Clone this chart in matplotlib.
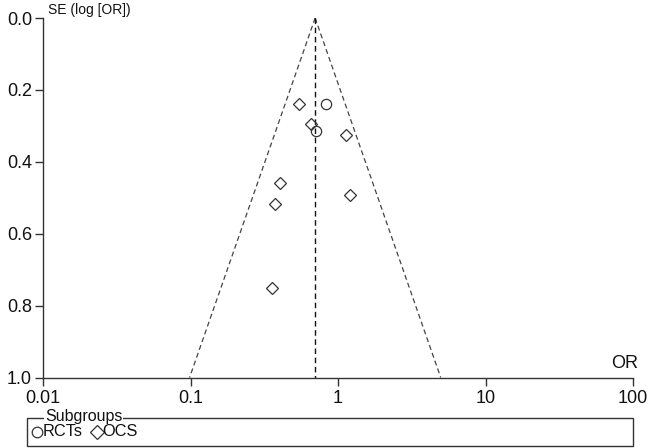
import numpy as np
import matplotlib
matplotlib.use("Agg")
import matplotlib.pyplot as plt
from matplotlib.lines import Line2D
from matplotlib.patches import Rectangle
from matplotlib.ticker import FixedLocator, FixedFormatter, NullLocator

plt.rcParams['font.family'] = ['Liberation Sans', 'DejaVu Sans']

# Data
rct_or = [0.834, 0.710]
rct_se = [0.240, 0.313]
ocs_or = [0.545, 0.660, 1.127, 0.404, 1.205, 0.375, 0.358]
ocs_se = [0.240, 0.294, 0.326, 0.460, 0.493, 0.516, 0.750]
pooled_or = 0.700
x_ticks = [0.01, 0.1, 1, 10, 100]
x_tick_labels = ["0.01", "0.1", "1", "10", "100"]
y_ticks = [0.0, 0.2, 0.4, 0.6, 0.8, 1.0]

W, H = 652, 448
fig = plt.figure(figsize=(W / 100, H / 100), dpi=100)
ax = fig.add_axes([43 / W, 1 - 377.5 / H, (633 - 43) / W, (377.5 - 18) / H])

ink = "#333333"

# funnel
se_line = np.array([0.0, 1.0])
lo = np.exp(np.log(pooled_or) - 1.96 * se_line)
hi = np.exp(np.log(pooled_or) + 1.96 * se_line)
dash = (0, (4.0, 2.6))
ax.plot(lo, se_line, color="#444444", lw=0.9, ls=dash)
ax.plot(hi, se_line, color="#444444", lw=0.9, ls=dash)
ax.plot([pooled_or, pooled_or], [0, 1], color="#111111", lw=1.0, ls=dash)

ax.plot(ocs_or, ocs_se, ls="none", marker="D", ms=6.6, mfc="none", mec=ink, mew=0.9)
ax.plot(rct_or, rct_se, ls="none", marker="o", ms=7.4, mfc="none", mec=ink, mew=0.9)

ax.set_xscale("log")
ax.set_xlim(0.01, 100)
ax.set_ylim(1.0, 0.0)
ax.xaxis.set_major_locator(FixedLocator(x_ticks))
ax.xaxis.set_major_formatter(FixedFormatter(x_tick_labels))
ax.xaxis.set_minor_locator(NullLocator())
ax.set_yticks(y_ticks)
ax.set_yticklabels([f"{v:.1f}" for v in y_ticks])

for s in ["top", "right"]:
    ax.spines[s].set_visible(False)
for s in ["left", "bottom"]:
    ax.spines[s].set_color(ink)
    ax.spines[s].set_linewidth(1.0)
ax.tick_params(axis="both", colors=ink, labelcolor="#111111", labelsize=13,
               length=6, width=1.0)
ax.tick_params(axis="y", pad=2)
ax.tick_params(axis="x", pad=3)

fig.text(48 / W, 1 - 10 / H, "SE (log [OR])", fontsize=10, color="#111111",
         ha="left", va="center")
fig.text(638 / W, 1 - 363 / H, "OR", fontsize=13, color="#111111",
         ha="right", va="center")

# legend box
fig.add_artist(Rectangle((27 / W, 1 - 445.5 / H), (633 - 27) / W, (445.5 - 417.5) / H,
                         transform=fig.transFigure, fill=False, ec=ink, lw=1.0))
fig.text(45 / W, 1 - 416.5 / H, "Subgroups", fontsize=11.5, color="#111111",
         ha="left", va="center",
         bbox=dict(facecolor="white", edgecolor="none", pad=0.5))
fig.add_artist(Line2D([37 / W], [1 - 431.5 / H], transform=fig.transFigure,
                      marker="o", ms=7.6, mfc="none", mec=ink, mew=0.9, ls="none"))
fig.text(42.5 / W, 1 - 431.5 / H, "RCTs", fontsize=11.8, color="#111111",
         ha="left", va="center")
fig.add_artist(Line2D([97 / W], [1 - 431.5 / H], transform=fig.transFigure,
                      marker="D", ms=6.8, mfc="none", mec=ink, mew=0.9, ls="none"))
fig.text(102.5 / W, 1 - 431.5 / H, "OCS", fontsize=11.8, color="#111111",
         ha="left", va="center")

fig.savefig("out.png", dpi=100)
